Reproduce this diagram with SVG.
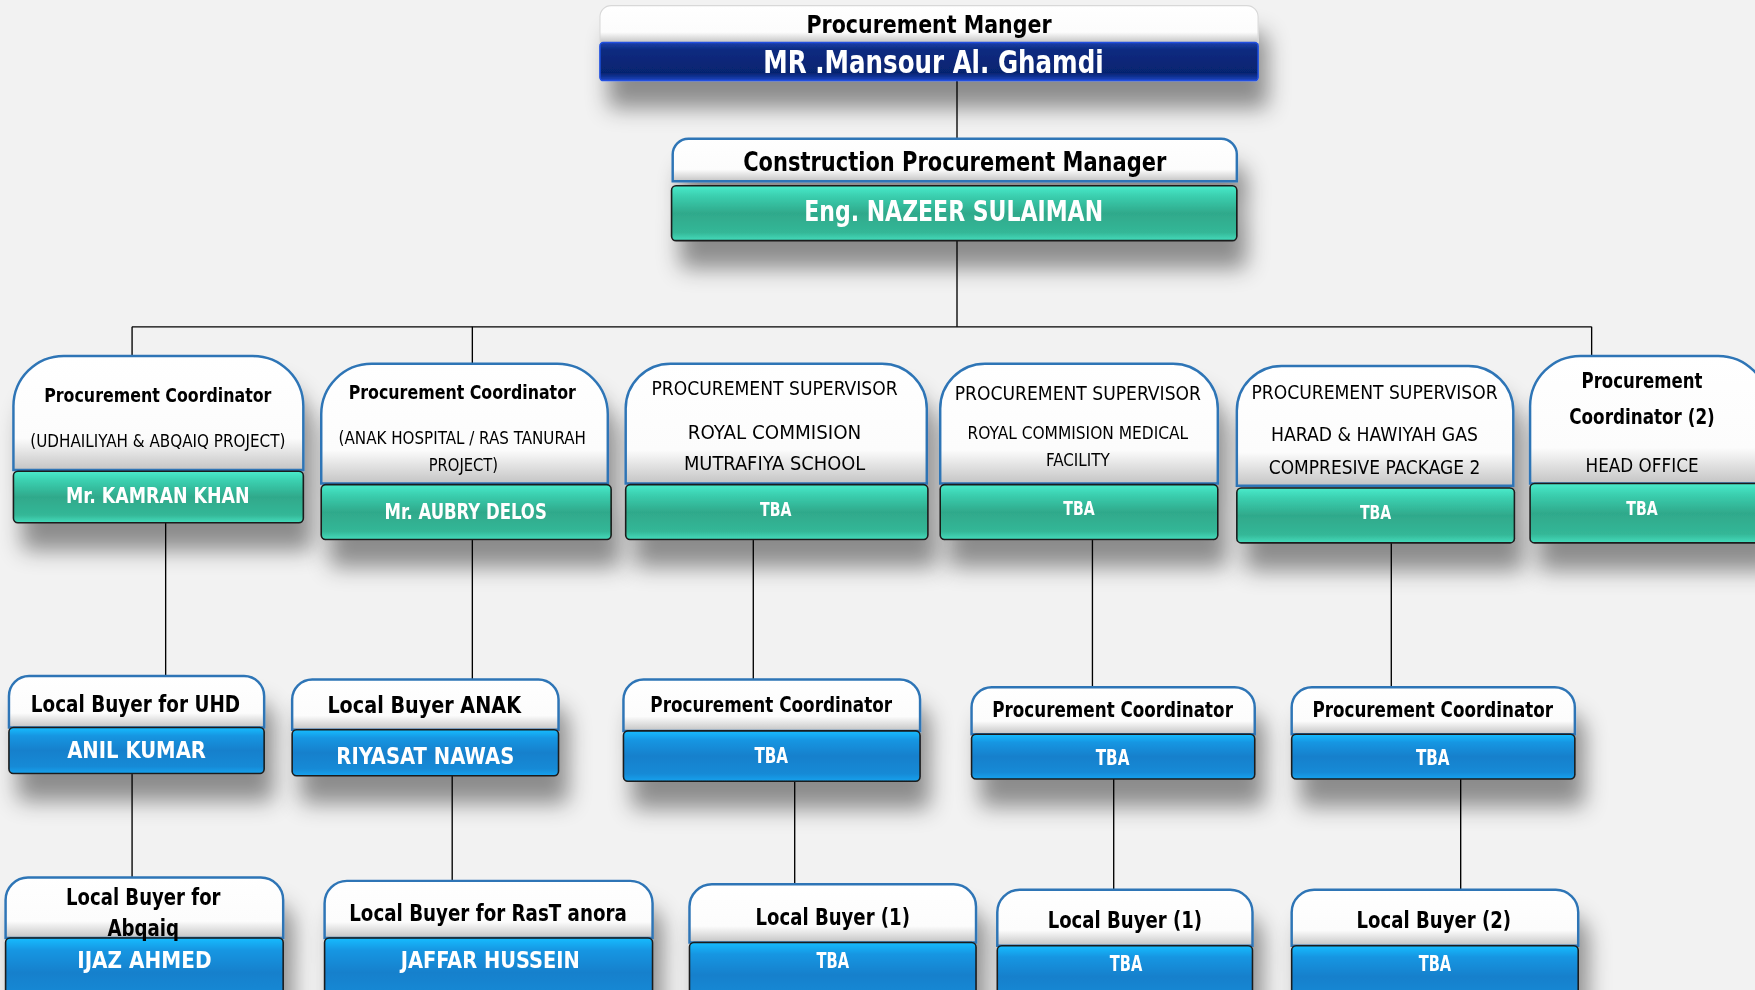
<svg xmlns="http://www.w3.org/2000/svg" width="1755" height="990" viewBox="0 0 1755 990">
<style>
.hdr{fill:url(#gWhite);stroke:#2e75b6;stroke-width:2.2}
.hdr0{fill:url(#gWhite);stroke:#d8d8d8;stroke-width:1}
.teal{fill:url(#gTeal);stroke:#1a1a1a;stroke-width:1.4}
.blue{fill:url(#gBlue);stroke:#1a1a1a;stroke-width:1.4}
.navy{fill:url(#gNavy);stroke:#2050e0;stroke-width:1.4}
.ln{stroke:#000;stroke-width:1.2;fill:none}
.t{font-family:"Liberation Sans Narrow","DejaVu Sans Condensed","Liberation Sans",sans-serif;text-anchor:middle;dominant-baseline:central}
.k{fill:#000}
.kb{fill:#000;font-weight:bold}
.w{fill:#fff;font-weight:bold}
.node{filter:url(#sh)}
</style>
<defs>
<linearGradient id="gWhite" x1="0" y1="0" x2="0" y2="1"><stop offset="0" stop-color="#ffffff"/><stop offset="0.72" stop-color="#fcfcfc"/><stop offset="1" stop-color="#c4c4c4"/></linearGradient>
<linearGradient id="gTeal" x1="0" y1="0" x2="0" y2="1"><stop offset="0" stop-color="#4aebcb"/><stop offset="0.18" stop-color="#3bd0b0"/><stop offset="0.5" stop-color="#2fa98b"/><stop offset="0.85" stop-color="#34b797"/><stop offset="1" stop-color="#45dcbc"/></linearGradient>
<linearGradient id="gBlue" x1="0" y1="0" x2="0" y2="1"><stop offset="0" stop-color="#18bcff"/><stop offset="0.18" stop-color="#1896e2"/><stop offset="0.5" stop-color="#1380cc"/><stop offset="0.85" stop-color="#158ad6"/><stop offset="1" stop-color="#1aa2ee"/></linearGradient>
<linearGradient id="gNavy" x1="0" y1="0" x2="0" y2="1"><stop offset="0" stop-color="#1a3fa8"/><stop offset="0.2" stop-color="#0a2a80"/><stop offset="0.8" stop-color="#062470"/><stop offset="1" stop-color="#1d44c0"/></linearGradient>
<filter id="sh" x="-10%" y="-20%" width="130%" height="200%"><feDropShadow dx="8" dy="24" stdDeviation="10" flood-color="#000" flood-opacity="0.42"/></filter>
</defs>
<rect width="1755" height="990" fill="#f2f2f2"/>
<g transform="scale(1.1193)">
<g id="connectors">
<path class="ln" d="M855 72V124"/>
<path class="ln" d="M855 215V292"/>
<path class="ln" d="M118 292H1422"/>
<path class="ln" d="M118 292V320M422 292V327M1422 292V320"/>
<path class="ln" d="M148 467V606M422 482V609M673 482V609M976 482V616M1243 485V616"/>
<path class="ln" d="M118 691V786M404 693V789M710 698V792M995 696V797M1305 696V797"/>
</g>

<g id="n-top" class="node">
<path class="hdr0" d="M536 38V15A10 10 0 0 1 546 5H1114A10 10 0 0 1 1124 15V38Z"/>
<rect class="navy" x="536" y="38" width="588" height="34" rx="3"/>
<text class="t kb" x="830" y="22" font-size="22" textLength="219" lengthAdjust="spacingAndGlyphs">Procurement Manger</text>
<text class="t w" x="834" y="55" font-size="28" textLength="304" lengthAdjust="spacingAndGlyphs">MR .Mansour Al. Ghamdi</text>
</g>

<g id="n-cpm" class="node">
<path class="hdr" d="M601 162V138A14 14 0 0 1 615 124H1091A14 14 0 0 1 1105 138V162Z"/>
<rect class="teal" x="600" y="166" width="505" height="49" rx="4"/>
<text class="t kb" x="853" y="144" font-size="24" textLength="378" lengthAdjust="spacingAndGlyphs">Construction Procurement  Manager</text>
<text class="t w" x="852" y="189" font-size="25" textLength="267" lengthAdjust="spacingAndGlyphs">Eng. NAZEER SULAIMAN</text>
</g>

<g id="n-kamran" class="node">
<path class="hdr" d="M12 420V363A45 45 0 0 1 57 318H226A45 45 0 0 1 271 363V420Z"/>
<rect class="teal" x="12" y="421" width="259" height="46" rx="4"/>
<text class="t kb" x="141" y="353" font-size="18" textLength="203" lengthAdjust="spacingAndGlyphs">Procurement Coordinator</text>
<text class="t k" x="141" y="394" font-size="15" textLength="228" lengthAdjust="spacingAndGlyphs">(UDHAILIYAH  &amp; ABQAIQ PROJECT)</text>
<text class="t w" x="141" y="443" font-size="19" textLength="164" lengthAdjust="spacingAndGlyphs">Mr. KAMRAN KHAN</text>
</g>

<g id="n-aubry" class="node">
<path class="hdr" d="M287 432V370A45 45 0 0 1 332 325H498A45 45 0 0 1 543 370V432Z"/>
<rect class="teal" x="287" y="433" width="259" height="49" rx="4"/>
<text class="t kb" x="413" y="350" font-size="18" textLength="203" lengthAdjust="spacingAndGlyphs">Procurement Coordinator</text>
<text class="t k" x="413" y="391" font-size="15" textLength="221" lengthAdjust="spacingAndGlyphs">(ANAK HOSPITAL / RAS TANURAH</text>
<text class="t k" x="414" y="415" font-size="15" textLength="62" lengthAdjust="spacingAndGlyphs">PROJECT)</text>
<text class="t w" x="416" y="457" font-size="19" textLength="145" lengthAdjust="spacingAndGlyphs">Mr. AUBRY DELOS</text>
</g>

<g id="n-sup1" class="node">
<path class="hdr" d="M559 432V365A40 40 0 0 1 599 325H788A40 40 0 0 1 828 365V432Z"/>
<rect class="teal" x="559" y="433" width="270" height="49" rx="4"/>
<text class="t k" x="692" y="347" font-size="17" textLength="220" lengthAdjust="spacingAndGlyphs">PROCUREMENT SUPERVISOR</text>
<text class="t k" x="692" y="386" font-size="17" textLength="155" lengthAdjust="spacingAndGlyphs">ROYAL COMMISION</text>
<text class="t k" x="692" y="414" font-size="17" textLength="162" lengthAdjust="spacingAndGlyphs">MUTRAFIYA SCHOOL</text>
<text class="t w" x="693" y="455" font-size="17" textLength="28" lengthAdjust="spacingAndGlyphs">TBA</text>
</g>

<g id="n-sup2" class="node">
<path class="hdr" d="M840 432V365A40 40 0 0 1 880 325H1048A40 40 0 0 1 1088 365V432Z"/>
<rect class="teal" x="840" y="433" width="248" height="49" rx="4"/>
<text class="t k" x="963" y="351" font-size="17" textLength="220" lengthAdjust="spacingAndGlyphs">PROCUREMENT SUPERVISOR</text>
<text class="t k" x="963" y="387" font-size="15" textLength="197" lengthAdjust="spacingAndGlyphs">ROYAL COMMISION MEDICAL</text>
<text class="t k" x="963" y="411" font-size="15" textLength="57" lengthAdjust="spacingAndGlyphs">FACILITY</text>
<text class="t w" x="964" y="454" font-size="17" textLength="28" lengthAdjust="spacingAndGlyphs">TBA</text>
</g>

<g id="n-sup3" class="node">
<path class="hdr" d="M1105 434V367A40 40 0 0 1 1145 327H1312A40 40 0 0 1 1352 367V434Z"/>
<rect class="teal" x="1105" y="436" width="248" height="49" rx="4"/>
<text class="t k" x="1228" y="350" font-size="17" textLength="220" lengthAdjust="spacingAndGlyphs">PROCUREMENT SUPERVISOR</text>
<text class="t k" x="1228" y="388" font-size="17" textLength="185" lengthAdjust="spacingAndGlyphs">HARAD &amp; HAWIYAH GAS</text>
<text class="t k" x="1228" y="417" font-size="17" textLength="189" lengthAdjust="spacingAndGlyphs">COMPRESIVE PACKAGE 2</text>
<text class="t w" x="1229" y="457" font-size="17" textLength="28" lengthAdjust="spacingAndGlyphs">TBA</text>
</g>

<g id="n-coord2" class="node">
<path class="hdr" d="M1367 432V363A45 45 0 0 1 1412 318H1535A45 45 0 0 1 1580 363V432Z"/>
<rect class="teal" x="1367" y="432" width="213" height="53" rx="4"/>
<text class="t kb" x="1467" y="340" font-size="19" textLength="108" lengthAdjust="spacingAndGlyphs">Procurement</text>
<text class="t kb" x="1467" y="372" font-size="19" textLength="130" lengthAdjust="spacingAndGlyphs">Coordinator (2)</text>
<text class="t k" x="1467" y="415" font-size="17" textLength="101" lengthAdjust="spacingAndGlyphs">HEAD OFFICE</text>
<text class="t w" x="1467" y="454" font-size="17" textLength="28" lengthAdjust="spacingAndGlyphs">TBA</text>
</g>

<g id="n-uhd" class="node">
<path class="hdr" d="M8 650V622A18 18 0 0 1 26 604H218A18 18 0 0 1 236 622V650Z"/>
<rect class="blue" x="8" y="650" width="228" height="41" rx="4"/>
<text class="t kb" x="121" y="629" font-size="20" textLength="187" lengthAdjust="spacingAndGlyphs">Local Buyer for UHD</text>
<text class="t w" x="122" y="670" font-size="21" textLength="124" lengthAdjust="spacingAndGlyphs">ANIL KUMAR</text>
</g>

<g id="n-anak" class="node">
<path class="hdr" d="M261 652V625A18 18 0 0 1 279 607H481A18 18 0 0 1 499 625V652Z"/>
<rect class="blue" x="261" y="652" width="238" height="41" rx="4"/>
<text class="t kb" x="379" y="630" font-size="20" textLength="173" lengthAdjust="spacingAndGlyphs">Local Buyer ANAK</text>
<text class="t w" x="380" y="675" font-size="21" textLength="159" lengthAdjust="spacingAndGlyphs">RIYASAT NAWAS</text>
</g>

<g id="n-pc1" class="node">
<path class="hdr" d="M557 653V625A18 18 0 0 1 575 607H804A18 18 0 0 1 822 625V653Z"/>
<rect class="blue" x="557" y="653" width="265" height="45" rx="4"/>
<text class="t kb" x="689" y="629" font-size="19" textLength="216" lengthAdjust="spacingAndGlyphs">Procurement Coordinator</text>
<text class="t w" x="689" y="675" font-size="19" textLength="30" lengthAdjust="spacingAndGlyphs">TBA</text>
</g>

<g id="n-pc2" class="node">
<path class="hdr" d="M868 656V632A18 18 0 0 1 886 614H1103A18 18 0 0 1 1121 632V656Z"/>
<rect class="blue" x="868" y="656" width="253" height="40" rx="4"/>
<text class="t kb" x="994" y="634" font-size="19" textLength="215" lengthAdjust="spacingAndGlyphs">Procurement Coordinator</text>
<text class="t w" x="994" y="677" font-size="19" textLength="30" lengthAdjust="spacingAndGlyphs">TBA</text>
</g>

<g id="n-pc3" class="node">
<path class="hdr" d="M1154 656V632A18 18 0 0 1 1172 614H1389A18 18 0 0 1 1407 632V656Z"/>
<rect class="blue" x="1154" y="656" width="253" height="40" rx="4"/>
<text class="t kb" x="1280" y="634" font-size="19" textLength="215" lengthAdjust="spacingAndGlyphs">Procurement Coordinator</text>
<text class="t w" x="1280" y="677" font-size="19" textLength="30" lengthAdjust="spacingAndGlyphs">TBA</text>
</g>

<g id="n-abqaiq" class="node">
<path class="hdr" d="M5 838V804A20 20 0 0 1 25 784H233A20 20 0 0 1 253 804V838Z"/>
<rect class="blue" x="5" y="838" width="248" height="62" rx="4"/>
<text class="t kb" x="128" y="801" font-size="20" textLength="138" lengthAdjust="spacingAndGlyphs">Local Buyer for</text>
<text class="t kb" x="128" y="829" font-size="20" textLength="64" lengthAdjust="spacingAndGlyphs">Abqaiq</text>
<text class="t w" x="129" y="858" font-size="21" textLength="120" lengthAdjust="spacingAndGlyphs">IJAZ AHMED</text>
</g>

<g id="n-rastanora" class="node">
<path class="hdr" d="M290 838V807A20 20 0 0 1 310 787H563A20 20 0 0 1 583 807V838Z"/>
<rect class="blue" x="290" y="838" width="293" height="62" rx="4"/>
<text class="t kb" x="436" y="816" font-size="20" textLength="248" lengthAdjust="spacingAndGlyphs">Local Buyer for RasT anora</text>
<text class="t w" x="438" y="858" font-size="21" textLength="160" lengthAdjust="spacingAndGlyphs">JAFFAR HUSSEIN</text>
</g>

<g id="n-lb1a" class="node">
<path class="hdr" d="M616 842V810A20 20 0 0 1 636 790H852A20 20 0 0 1 872 810V842Z"/>
<rect class="blue" x="616" y="842" width="256" height="58" rx="4"/>
<text class="t kb" x="744" y="819" font-size="21" textLength="138" lengthAdjust="spacingAndGlyphs">Local Buyer (1)</text>
<text class="t w" x="744" y="858" font-size="19" textLength="29" lengthAdjust="spacingAndGlyphs">TBA</text>
</g>

<g id="n-lb1b" class="node">
<path class="hdr" d="M891 845V815A20 20 0 0 1 911 795H1099A20 20 0 0 1 1119 815V845Z"/>
<rect class="blue" x="891" y="845" width="228" height="55" rx="4"/>
<text class="t kb" x="1005" y="822" font-size="21" textLength="138" lengthAdjust="spacingAndGlyphs">Local Buyer (1)</text>
<text class="t w" x="1006" y="861" font-size="19" textLength="29" lengthAdjust="spacingAndGlyphs">TBA</text>
</g>

<g id="n-lb2" class="node">
<path class="hdr" d="M1154 845V815A20 20 0 0 1 1174 795H1390A20 20 0 0 1 1410 815V845Z"/>
<rect class="blue" x="1154" y="845" width="256" height="55" rx="4"/>
<text class="t kb" x="1281" y="822" font-size="21" textLength="138" lengthAdjust="spacingAndGlyphs">Local Buyer (2)</text>
<text class="t w" x="1282" y="861" font-size="19" textLength="29" lengthAdjust="spacingAndGlyphs">TBA</text>
</g>
</g>
</svg>
